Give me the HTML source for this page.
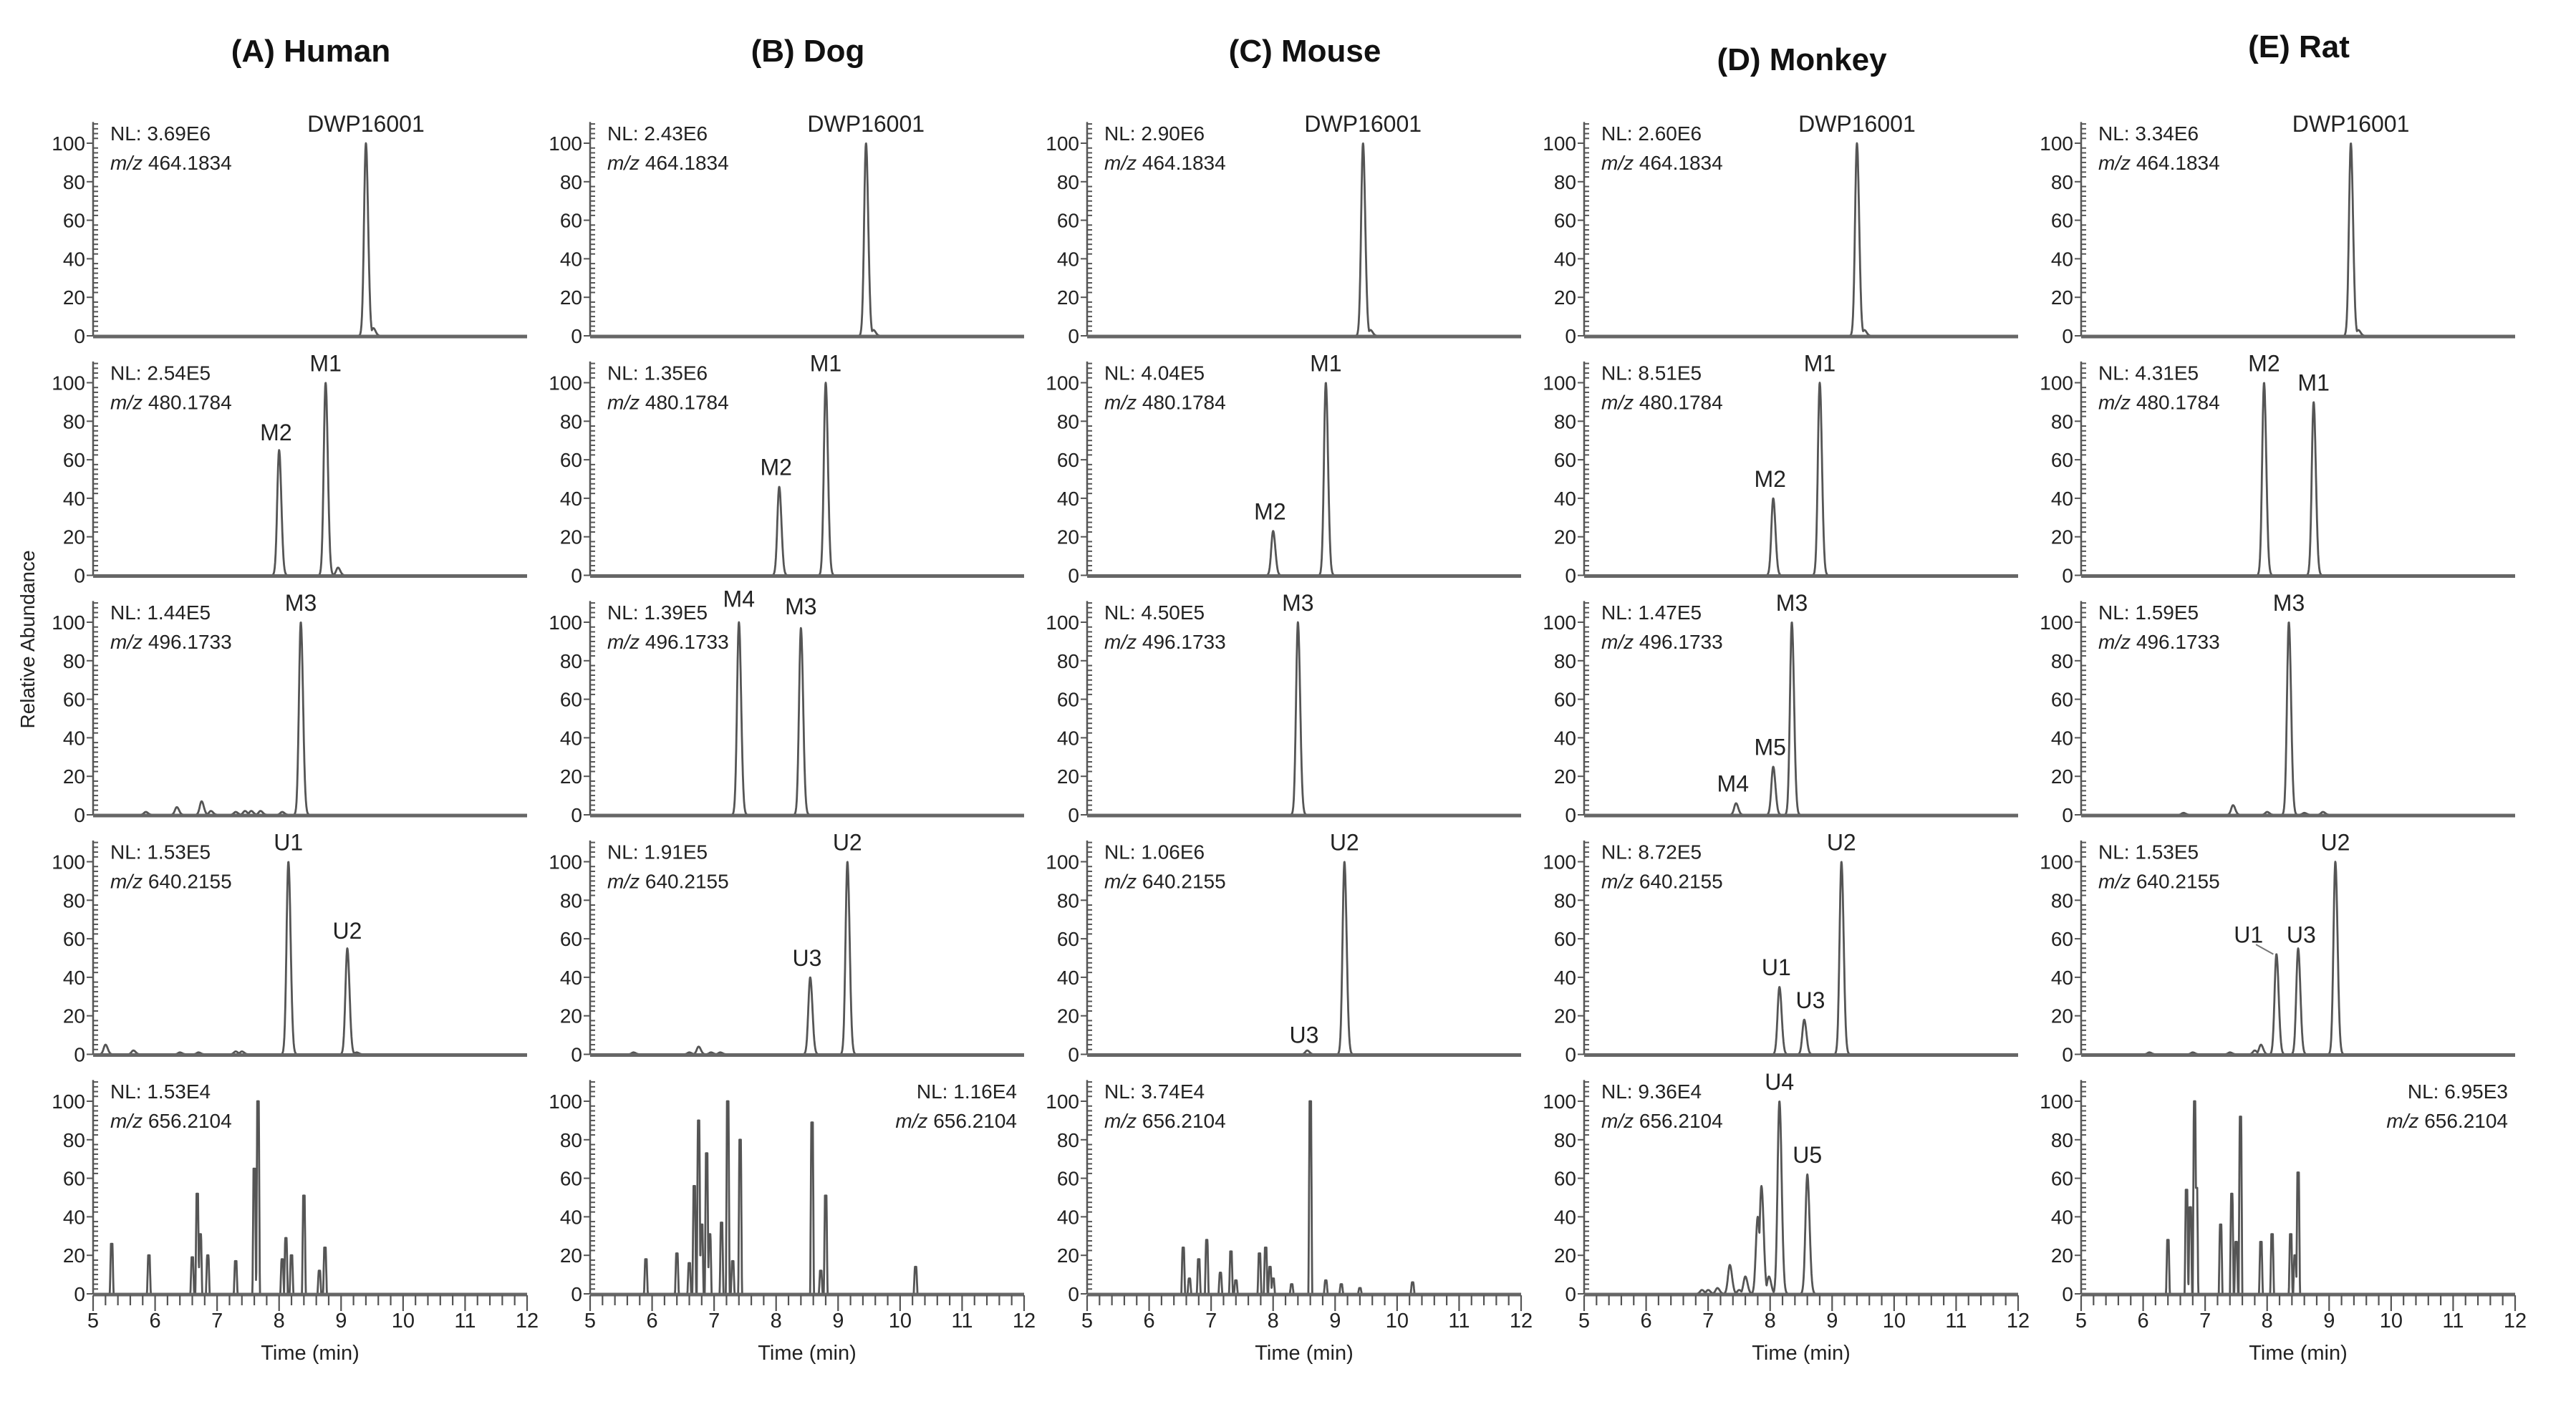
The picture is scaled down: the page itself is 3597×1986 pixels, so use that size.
<!DOCTYPE html>
<html><head><meta charset="utf-8"><title>Chromatograms</title>
<style>
html,body{margin:0;padding:0;background:#fff;}
svg{display:block;font-family:"Liberation Sans",Arial,sans-serif;}
</style></head>
<body>
<svg id="fig" width="3597" height="1986" viewBox="0 0 3597 1986" xmlns="http://www.w3.org/2000/svg"></svg>
<script>
// ---- data ----
const species = ["(A) Human","(B) Dog","(C) Mouse","(D) Monkey","(E) Rat"];
const titleDy = [0,0,0,12,-6];
const mzRows = ["464.1834","480.1784","496.1733","640.2155","656.2104"];
const nlValues = [
 ["3.69E6","2.54E5","1.44E5","1.53E5","1.53E4"],
 ["2.43E6","1.35E6","1.39E5","1.91E5","1.16E4"],
 ["2.90E6","4.04E5","4.50E5","1.06E6","3.74E4"],
 ["2.60E6","8.51E5","1.47E5","8.72E5","9.36E4"],
 ["3.34E6","4.31E5","1.59E5","1.53E5","6.95E3"]
];
const nlRight = [[0,0,0,0,0],[0,0,0,0,1],[0,0,0,0,0],[0,0,0,0,0],[0,0,0,0,1]];
// peak retention times and relative heights per panel [col][row]
const peakTimes = [
 [[9.4,9.52],[8.0,8.75,8.95],[5.85,6.35,6.75,6.9,7.3,7.45,7.55,7.7,8.05,8.35],[5.2,5.65,6.4,6.7,7.3,7.4,8.15,9.1,9.25],[5.3,5.9,6.6,6.68,6.73,6.85,7.3,7.6,7.66,8.05,8.11,8.2,8.4,8.65,8.74]],
 [[9.45,9.57],[8.05,8.8],[7.4,8.4],[5.7,6.6,6.75,6.95,7.1,8.55,9.15],[5.9,6.4,6.6,6.68,6.75,6.8,6.88,6.93,7.12,7.22,7.3,7.42,8.58,8.72,8.8,10.25]],
 [[9.45,9.57],[8.0,8.85],[8.4],[8.55,9.15],[6.55,6.65,6.8,6.93,7.15,7.32,7.4,7.78,7.88,7.95,8.0,8.3,8.6,8.85,9.1,9.4,10.25]],
 [[9.4,9.52],[8.05,8.8],[7.45,8.05,8.35],[8.15,8.55,9.15],[6.9,7.0,7.15,7.35,7.5,7.6,7.8,7.86,7.98,8.15,8.6]],
 [[9.35,9.47],[7.95,8.75],[6.65,7.45,8.0,8.35,8.6,8.9],[6.1,6.8,7.4,7.8,7.9,8.15,8.5,9.1],[6.4,6.7,6.76,6.83,6.86,7.25,7.43,7.5,7.57,7.9,8.08,8.38,8.45,8.5]]
];
const peakHeights = [
 [[100,4],[65,100,4],[1.5,4,7,2,1.5,2,2,2,1.5,100],[5,2,1,1,1.5,1.5,100,55,1],[26,20,19,52,31,20,17,65,100,18,29,20,51,12,24]],
 [[100,3],[46,100],[100,97],[1,1,4,1,1,40,100],[18,21,16,56,90,36,73,31,37,100,17,80,89,12,51,14]],
 [[100,3],[23,100],[100],[2,100],[24,8,18,28,11,22,7,21,24,14,8,5,100,7,5,3,6]],
 [[100,3],[40,100],[6,25,100],[35,18,100],[2,2,3,15,2,9,40,56,9,100,62]],
 [[100,3],[100,90],[1,5,1.5,100,1,1.5],[1,1,1,2,5,52,55,100],[28,54,45,100,55,36,52,27,92,27,31,31,20,63]]
];
// peak labels [text, time, value]
const peakLabels = [
 [[["DWP16001",9.4,106]],[["M2",7.95,70],["M1",8.75,106]],[["M3",8.35,106]],[["U1",8.15,106],["U2",9.1,60]],[]],
 [[["DWP16001",9.45,106]],[["M2",8.0,52],["M1",8.8,106]],[["M4",7.4,108],["M3",8.4,104]],[["U3",8.5,46],["U2",9.15,106]],[]],
 [[["DWP16001",9.45,106]],[["M2",7.95,29],["M1",8.85,106]],[["M3",8.4,106]],[["U3",8.5,6],["U2",9.15,106]],[]],
 [[["DWP16001",9.4,106]],[["M2",8.0,46],["M1",8.8,106]],[["M4",7.4,12],["M5",8.0,31],["M3",8.35,106]],[["U1",8.1,41],["U3",8.65,24],["U2",9.15,106]],[["U4",8.15,106],["U5",8.6,68]]],
 [[["DWP16001",9.35,106]],[["M2",7.95,106],["M1",8.75,96]],[["M3",8.35,106]],[["U1",7.7,58],["U3",8.55,58],["U2",9.1,106]],[]]
];
const yTicks = [0,20,40,60,80,100];
const xTicks = [5,6,7,8,9,10,11,12];

// ---- layout ----
const NS = "http://www.w3.org/2000/svg";
const svg = document.getElementById("fig");
const X0 = 130, COLW = 694, PW = 606;
const ZERO0 = 469, ROWH = 334.5, PH = 269;
const INK = "#555", TXT = "#222";
function mk(tag, attrs, parent){
  const e = document.createElementNS(NS, tag);
  for (const k in attrs) e.setAttribute(k, attrs[k]);
  (parent||svg).appendChild(e);
  return e;
}
function xs(c, t){ return X0 + c*COLW + (t-5)/7*PW; }
function ys(r, v){ return ZERO0 + r*ROWH - v/100*PH; }

// y axis title
const yt = mk("text",{x:0,y:0,"font-size":28,fill:TXT,"text-anchor":"middle",transform:"translate(48,893) rotate(-90)"});


yt.textContent = "Relative Abundance";

for (let c=0;c<5;c++){
  const g = mk("g",{});
  
  
  const tt = mk("text",{x:X0+c*COLW+304,y:86+titleDy[c],"font-size":44,"font-weight":"bold",fill:"#111","text-anchor":"middle"},g);
  
  
  tt.textContent = species[c];
  for (let r=0;r<5;r++){
    const pg = mk("g",{},g);
    
    
    const x0 = xs(c,5), x1 = xs(c,12), y0 = ys(r,0);
    const ax = mk("line",{x1:x0,y1:y0,x2:x0,y2:ys(r,111),stroke:INK,"stroke-width":2.5},pg);
    
    
    for (let v=0; v<=110; v+=2.5){
      const major = yTicks.includes(v);
      mk("line",{x1:major?x0-9:x0,y1:ys(r,v),x2:major?x0:x0+7,y2:ys(r,v),stroke:INK,"stroke-width":2},pg);
    }
    yTicks.forEach(v=>{
      const tl = mk("text",{x:x0-11,y:ys(r,v)+10,"font-size":28,fill:TXT,"text-anchor":"end"},pg);
      
      
      tl.textContent = v;
    });
    const ts = peakTimes[c][r], hs = peakHeights[c][r];
    const box = (r===4 && c!==3);
    let d = "";
    for (let t=5; t<=12.0001; t+=0.004){
      let v = 0;
      for (let i=0;i<ts.length;i++){
        const dt = t-ts[i];
        if (box){
          const a = Math.abs(dt);
          const f = a<0.012?1:(a<0.03?(0.03-a)/0.018:0);
          v = Math.max(v, hs[i]*f);
        } else {
          const s = dt>0?0.036:0.03;
          v = Math.max(v, hs[i]*Math.exp(-dt*dt/(2*s*s)));
        }
      }
      d += (d?"L":"M")+xs(c,t).toFixed(1)+","+ys(r,v).toFixed(1);
    }
    const tr = mk("path",{d:d,fill:"none",stroke:INK,"stroke-width":2.8,"stroke-linejoin":"round"},pg);
    
    
    const bl = mk("line",{x1:x0,y1:y0+1,x2:x1,y2:y0+1,stroke:"#666","stroke-width":5},pg);
    
    
    const right = nlRight[c][r]===1;
    const tx = right ? x1-10 : x0+24;
    const anchor = right ? "end" : "start";
    const nl = mk("text",{x:tx,y:ys(r,100)-4,"font-size":28,fill:TXT,"text-anchor":anchor},pg);
    
    
    nl.textContent = "NL: "+nlValues[c][r];
    const mz = mk("text",{x:tx,y:ys(r,100)+37,"font-size":28,fill:TXT,"text-anchor":anchor},pg);
    
    
    const it = mk("tspan",{"font-style":"italic"},mz); it.textContent="m/z";
    const rest = mk("tspan",{},mz); rest.textContent=" "+mzRows[r];
    peakLabels[c][r].forEach(L=>{
      const pl = mk("text",{x:xs(c,L[1]),y:ys(r,L[2]),"font-size":32,fill:TXT,"text-anchor":"middle"},pg);
      
      
      pl.textContent = L[0];
    });
    if (c===4 && r===3){
      const ld = mk("line",{x1:xs(c,7.82),y1:ys(r,57),x2:xs(c,8.1),y2:ys(r,52),stroke:"#777","stroke-width":2},pg);
      
      
    }
    if (r===4){
      for (let k=0;k<=35;k++){
        const t = 5+k*0.2;
        const major = k%5===0;
        mk("line",{x1:xs(c,t),y1:y0+2,x2:xs(c,t),y2:y0+(major?24:16),stroke:INK,"stroke-width":2.2},pg);
      }
      xTicks.forEach(t=>{
        const xl = mk("text",{x:xs(c,t),y:y0+47,"font-size":29,fill:TXT,"text-anchor":"middle"},pg);
        
        
        xl.textContent = t;
      });
      const xt = mk("text",{x:xs(c,8.5),y:y0+92,"font-size":29,fill:TXT,"text-anchor":"middle"},pg);
      
      
      xt.textContent = "Time (min)";
    }
  }
}
</script>
</body></html>
